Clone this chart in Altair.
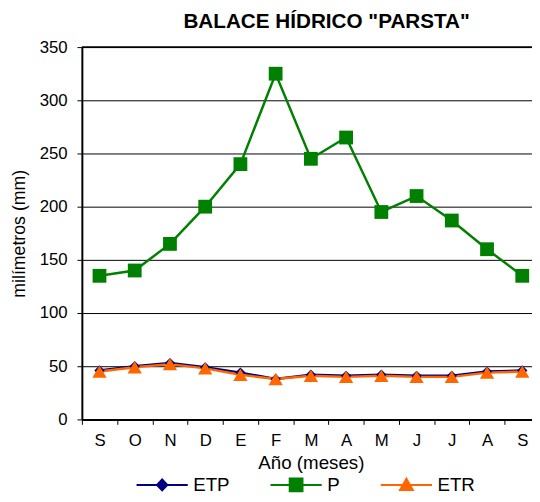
import altair as alt
import pandas as pd

months = ["S", "O", "N", "D", "E", "F", "M", "A", "M", "J", "J", "A", "S"]
etp = [46, 50, 53, 49, 44, 38, 42, 41, 42, 41, 41, 45, 46]
p = [135, 140, 165, 200, 240, 325, 245, 265, 195, 210, 187, 160, 135]
etr = [45, 49, 52, 48, 42, 38, 41, 40, 41, 40, 40, 44, 45]

series = ["ETP", "P", "ETR"]
colors = ["#000080", "#008000", "#FF6600"]
shapes = ["diamond", "square", "triangle-up"]
sizes = [110, 196, 210]

rows = []
for name, vals in zip(series, [etp, p, etr]):
    for i, (m, v) in enumerate(zip(months, vals)):
        rows.append({"idx": i, "mes": m, "serie": name, "valor": v})
df = pd.DataFrame(rows)

label_expr = "[" + ",".join('"%s"' % m for m in months) + "][datum.value]"

FONT = "Liberation Sans"

x_enc = alt.X(
    "idx:O",
    bandPosition=0.5,
    scale=alt.Scale(type="band", range=[0, 465], paddingInner=0, paddingOuter=0),
    axis=alt.Axis(
        title="Año (meses)",
        labelExpr=label_expr,
        labelAngle=0,
        tickBand="extent",
        tickSize=5,
        tickColor="black",
        domainColor="black",
        domainWidth=2,
        labelPadding=8,
        titlePadding=6,
        grid=False,
    ),
)
y_enc = alt.Y(
    "valor:Q",
    scale=alt.Scale(domain=[0, 350], nice=False),
    axis=alt.Axis(
        title="milímetros (mm)",
        titleFontSize=18,
        values=[0, 50, 100, 150, 200, 250, 300, 350],
        grid=True,
        gridColor="black",
        gridWidth=1,
        gridOpacity=1,
        tickSize=5,
        tickColor="black",
        domainColor="black",
        domainWidth=2,
        labelPadding=10,
        titlePadding=11,
    ),
)

legend_paths = [
    "M-5.2,0H5.2M0,-1.1L1.05,0L0,1.1L-1.05,0Z",
    "M-5.2,0H5.2M-1.3,-1.3H1.3V1.3H-1.3Z",
    "M-5.2,0H5.2M0,-1.25L1.3,1.05L-1.3,1.05Z",
]


def make_legend():
    return alt.Legend(
        title=None,
        orient="none",
        direction="horizontal",
        legendX=72,
        legendY=435,
        gridAlign="none",
        labelFont=FONT,
        labelFontSize=19,
        labelColor="black",
        labelOffset=22,
        columnPadding=37,
        symbolSize=100,
        symbolStrokeWidth=2,
        symbolOpacity=1,
    )


color_enc = alt.Color(
    "serie:N", scale=alt.Scale(domain=series, range=colors), legend=None
)

base = alt.Chart(df)

legend_layer = base.mark_point(filled=True, size=0, strokeWidth=0).encode(
    x=x_enc,
    y=y_enc,
    fill=alt.Fill("serie:N", scale=alt.Scale(domain=series, range=colors), legend=make_legend()),
    stroke=alt.Stroke("serie:N", scale=alt.Scale(domain=series, range=colors), legend=make_legend()),
    shape=alt.Shape("serie:N", scale=alt.Scale(domain=series, range=legend_paths), legend=make_legend()),
)

lines = base.mark_line(strokeWidth=2.5).encode(
    x=x_enc, y=y_enc, color=color_enc, detail="serie:N"
)

point_layers = []
for name, shp, sz in zip(series, shapes, sizes):
    point_layers.append(
        base.transform_filter(alt.datum.serie == name)
        .mark_point(filled=True, opacity=1, shape=shp, size=sz)
        .encode(x=x_enc, y=y_enc, color=color_enc)
    )

top = alt.Chart(pd.DataFrame({"v": [350]})).mark_rule(color="black", strokeWidth=2).encode(
    y=alt.Y("v:Q", scale=alt.Scale(domain=[0, 350], nice=False))
)

chart = (
    alt.layer(legend_layer, top, lines, *point_layers)
    .properties(
        width=457,
        height=378,
        background="white",
        autosize=alt.AutoSizeParams(type="none"),
        padding={"left": 75, "top": 36, "right": 0, "bottom": 72},
        title=alt.Title(
            'BALACE HÍDRICO "PARSTA"',
            font=FONT,
            fontSize=21,
            fontWeight="bold",
            color="black",
            anchor="middle",
            dx=20,
            offset=6,
        ),
    )
    .configure_view(stroke=None)
    .configure_axis(
        labelFont=FONT,
        labelFontSize=17,
        labelColor="black",
        titleFont=FONT,
        titleFontSize=19,
        titleFontWeight="normal",
        titleColor="black",
    )
)

chart.save("out.html", embed_options={"renderer": "svg", "actions": False})
